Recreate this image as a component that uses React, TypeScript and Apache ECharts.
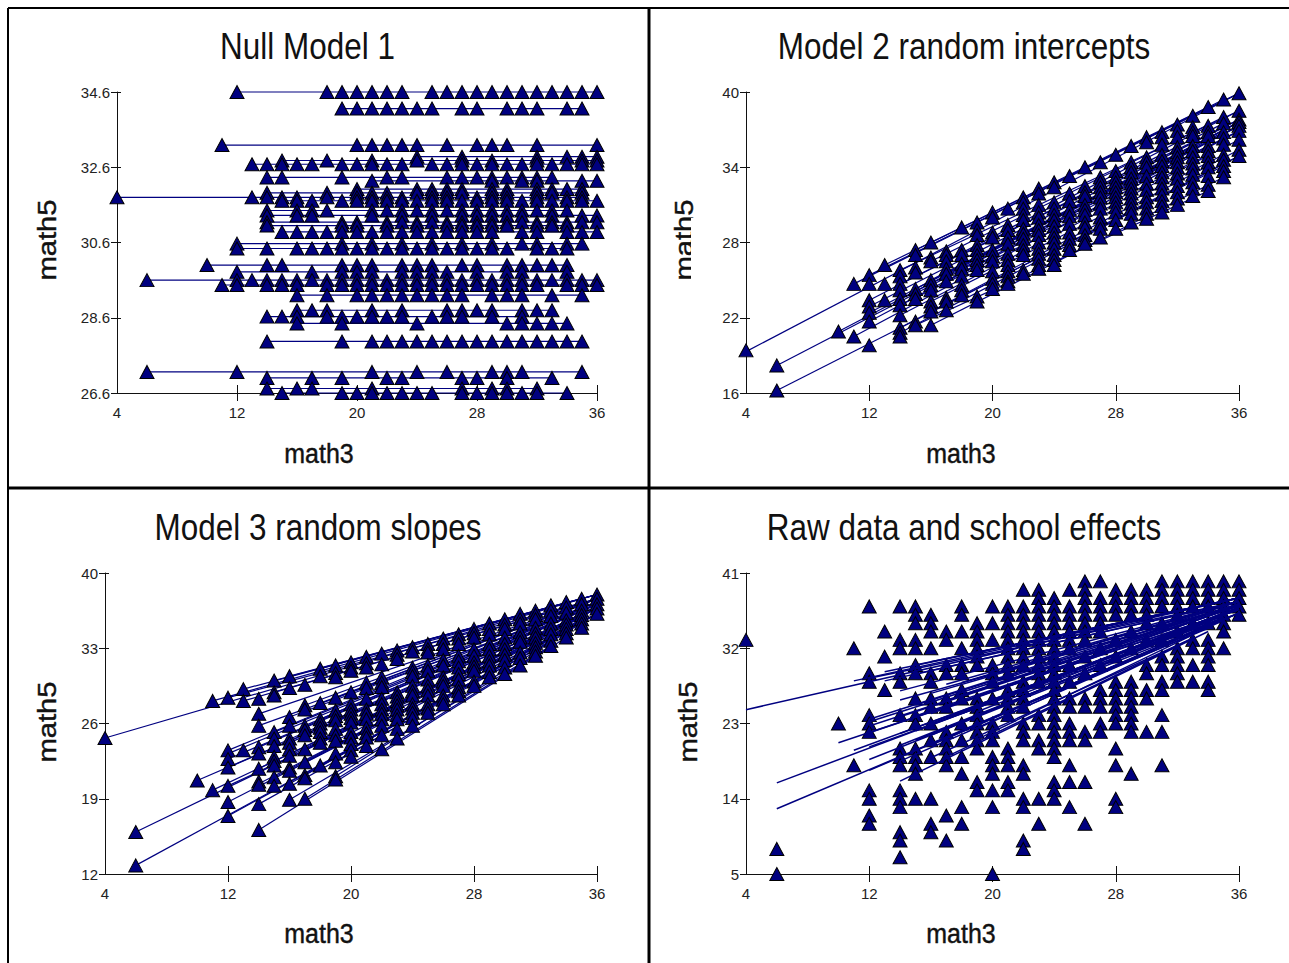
import React, { useEffect, useRef } from "react";
import * as echarts from "echarts";

const xTicks = [4, 12, 20, 28, 36];
const yTicks1 = [26.6, 28.6, 30.6, 32.6, 34.6];
const yTicks2 = [16, 22, 28, 34, 40];
const yTicks3 = [12, 19, 26, 33, 40];
const yTicks4 = [5, 14, 23, 32, 41];

// Model 1: [school level, math3 values]
const model1Levels: [number, number[]][] = [
  [34.6, [12, 18, 19, 20, 21, 22, 23, 25, 26, 27, 28, 29, 30, 31, 32, 33, 34, 35, 36]],
  [34.16, [19, 20, 21, 22, 23, 24, 25, 27, 28, 30, 31, 32, 34, 35]],
  [33.19, [11, 20, 21, 22, 23, 24, 26, 28, 29, 30, 32, 36]],
  [32.88, [24, 27, 32, 34, 35, 36]],
  [32.78, [15, 18, 21, 24, 27, 29, 32, 35, 36]],
  [32.68, [13, 14, 15, 16, 17, 19, 20, 21, 22, 23, 25, 26, 27, 28, 29, 30, 31, 32, 33, 34, 35, 36]],
  [32.33, [14, 15, 19, 22, 23, 26, 27, 28, 29, 30, 31, 32, 33]],
  [32.24, [21, 29, 31, 32, 35, 36]],
  [32.02, [20, 24, 25, 26, 27, 29, 30, 32, 33, 34, 35]],
  [31.92, [14, 18, 20, 21, 22, 24, 25, 26, 27, 29, 30, 32, 33, 35]],
  [31.8, [4, 13, 14, 15, 16, 18, 20, 21, 22, 23, 25, 26, 28, 29, 30, 32, 34, 35]],
  [31.71, [15, 16, 17, 19, 20, 21, 22, 23, 24, 25, 26, 27, 28, 29, 30, 31, 32, 33, 34, 35, 36]],
  [31.45, [14, 16, 17, 18, 21, 22, 23, 24, 25, 26, 27, 28, 29, 30, 31, 32, 33, 34]],
  [31.32, [14, 16, 17, 21, 23, 25, 27, 28, 29, 30, 31, 33, 35, 36]],
  [31.14, [14, 19, 20, 22, 23, 24, 25, 26, 27, 28, 29, 30, 31, 32, 33, 34, 35, 36]],
  [31.05, [14, 19, 20, 22, 24, 26, 27, 28, 29, 30, 32, 33, 34]],
  [30.88, [15, 16, 17, 18, 19, 20, 21, 22, 23, 24, 25, 26, 27, 28, 29, 31, 32, 34, 35, 36]],
  [30.57, [12, 19, 21, 23, 25, 27, 29, 31, 32, 34, 35]],
  [30.44, [12, 14, 16, 17, 18, 19, 20, 21, 22, 23, 24, 25, 26, 27, 28, 29, 30, 32, 33, 34]],
  [30.0, [10, 14, 15, 19, 20, 21, 23, 24, 25, 27, 28, 30, 31, 32, 33, 34]],
  [29.82, [12, 17, 19, 20, 21, 23, 24, 25, 26, 28, 30, 31, 34]],
  [29.6, [6, 12, 13, 14, 15, 16, 17, 18, 19, 20, 21, 22, 23, 24, 25, 26, 27, 28, 29, 30, 31, 32, 33, 34, 35, 36]],
  [29.47, [11, 12, 14, 15, 16, 18, 19, 20, 21, 22, 23, 24, 25, 26, 27, 28, 29, 30, 31, 32, 34, 35, 36]],
  [29.2, [16, 18, 20, 21, 22, 23, 24, 25, 26, 27, 29, 30, 31, 33, 35]],
  [28.8, [16, 17, 18, 21, 23, 26, 27, 28, 29, 31, 32, 33]],
  [28.63, [14, 15, 16, 18, 19, 20, 21, 22, 23, 25, 26, 27, 29, 31]],
  [28.45, [16, 19, 24, 30, 31, 32, 33, 34]],
  [27.97, [14, 19, 21, 22, 23, 24, 25, 26, 27, 28, 29, 30, 31, 32, 33, 34, 35]],
  [27.16, [6, 12, 21, 24, 26, 29, 30, 31, 35]],
  [27.0, [14, 17, 19, 22, 23, 27, 28, 30, 33]],
  [26.72, [14, 16, 17, 21, 27, 29, 30, 32]],
  [26.6, [15, 19, 20, 21, 22, 23, 24, 25, 27, 28, 29, 30, 31, 32, 34]],
];

// Model 2: triangles by math3 column
const model2Columns: [number, number[]][] = [
  [4, [19.4]], [6, [18.2, 16.2]], [10, [20.9]], [11, [24.7, 20.5]],
  [12, [25.4, 24.7, 23.4, 22.9, 22.4, 21.7, 19.8]],
  [13, [26.2, 24.7, 23.4]],
  [14, [25.8, 25.3, 24.7, 24.2, 23.5, 23, 22.2, 21.2, 20.8, 20.5]],
  [15, [27.4, 27, 26, 25.6, 24.3, 23.9, 23.5, 21.7, 21.4]],
  [16, [28, 26.8, 26.5, 25, 24.6, 24.2, 23.3, 22.9, 22.5, 21.4]],
  [17, [27.3, 27, 26.5, 25.9, 25.5, 24.9, 23.6, 23.3, 22.6]],
  [18, [29.2, 27.4, 27, 26.3, 25.9, 25.3, 24.6, 24.2, 23.8]],
  [19, [29.6, 29, 28.6, 27.8, 27.4, 27, 26.6, 26.2, 25.8, 23.7, 23.3]],
  [20, [30.4, 30, 28.8, 28.4, 27.4, 26.9, 26.5, 25.7, 25.1, 24.7, 24.3]],
  [21, [30.7, 29.4, 29, 28.4, 27.9, 27.1, 26.6, 26.2, 25.7, 25.3, 24.9, 24.7]],
  [22, [31.6, 31.2, 30.7, 30.2, 29.8, 29.1, 28.7, 28.3, 27.8, 27.4, 27, 25.8, 25.5]],
  [23, [32.3, 31.9, 31, 30.4, 30, 29.4, 29, 28.6, 28, 27.5, 27.1, 26.7, 26.2, 25.9]],
  [24, [32.8, 32.4, 31.2, 30.7, 30.2, 29.8, 29.3, 28.8, 28.4, 28, 27.5, 27, 26.6, 26.2]],
  [25, [33.3, 31.9, 31.3, 30.6, 30.1, 29.5, 28.8, 28.3, 27.8, 27.4]],
  [26, [34, 32.5, 32, 31.7, 31, 30.6, 30.2, 29.6, 29.2, 28.6, 28.2, 27.9]],
  [27, [34.4, 33.2, 32.8, 32.4, 32, 31.6, 31.1, 30.7, 30, 29.5, 29.1, 28.4]],
  [28, [35, 33.7, 33.2, 32.8, 32.4, 32, 31.6, 31.2, 30.8, 30.4, 29.8, 29.1]],
  [29, [35.7, 34.4, 34, 33.6, 33.1, 32.7, 32.3, 31.9, 31.5, 31.1, 30.7, 30.3, 29.6]],
  [30, [36.4, 36, 34.8, 34.4, 34, 33.3, 32.7, 32.2, 31.6, 31.2, 30.7, 30.3, 29.9]],
  [31, [36.8, 36.4, 35.8, 35, 34.5, 34.1, 33.6, 33.2, 32.7, 32.3, 31.8, 31.3, 30.9, 30.4]],
  [32, [37.4, 36.9, 36.4, 35.6, 35.2, 34.8, 34.4, 34, 33.5, 33.1, 32.5, 32, 31.5, 31]],
  [33, [38.1, 37.2, 36.8, 36.5, 35.7, 35.3, 34.8, 34.3, 33.9, 33.4, 32.8, 32.3, 31.7]],
  [34, [38.8, 37.3, 36.8, 36.5, 35.7, 35.3, 34.9, 34.4, 34, 33.3, 32.6, 32.1]],
  [35, [39.4, 38, 37.5, 36.8, 36.3, 35.8, 35, 34.6, 34.1, 33.7, 33.2]],
  [36, [39.9, 38.5, 37.8, 37.6, 37.3, 36.9, 36.2, 35.4, 34.9]],
];

// Fitted lines of model 2: [x0, y0, x1, y1]
const model2Lines: number[][] = [
  [4, 19.3, 36, 39.9], [11, 24.7, 35, 39.4], [12, 25.4, 36, 39.9], [13, 26.2, 34, 38.8],
  [6, 18.2, 36, 37.3], [6, 16.2, 36, 34.9], [10, 20.9, 36, 37.6], [11, 20.5, 36, 36.9],
  [12, 23.4, 36, 38.5], [12, 22.9, 36, 37.8], [12, 22.4, 36, 37.6], [12, 21.7, 36, 37.3],
  [14, 25.8, 36, 38.5], [14, 24.7, 36, 37.8], [14, 23.5, 36, 36.9], [14, 23, 34, 35],
  [14, 22.2, 36, 36.2], [14, 21.2, 36, 35.4], [14, 20.8, 36, 34.9], [15, 27.4, 36, 39.9],
  [15, 24.3, 35, 36.8], [15, 21.4, 34, 32.1], [16, 26.5, 35, 38], [16, 25, 36, 37.6],
  [16, 23.3, 35, 35], [16, 22.5, 35, 34.1], [16, 21.4, 35, 33.2], [17, 25.5, 36, 37.3],
  [17, 24.9, 34, 35.7], [18, 27, 35, 37.5],
];

// Model 3: triangles by math3 column
const model3Columns: [number, number[]][] = [
  [4, [24.65]], [6, [15.9, 12.8]], [10, [20.7]], [11, [28.1, 19.8]],
  [12, [28.4, 23.5, 22.7, 21.9, 20.2, 18.7, 17.4]],
  [13, [29.2, 28.1, 23.5]],
  [14, [28.3, 26.9, 25.8, 23.8, 23.2, 21.8, 20.6, 20.3, 18.5, 16.1]],
  [15, [30, 28.9, 28.6, 25.2, 24.6, 23.9, 22.9, 22.5, 22.1, 21, 20.2]],
  [16, [30.4, 29.3, 26.6, 25.8, 24.6, 24.2, 23.6, 23, 21.9, 21.6, 20.4, 18.9]],
  [17, [29.6, 27.7, 27.3, 25.8, 25.4, 24.9, 23.6, 22.4, 21.2, 20.9, 19]],
  [18, [31.1, 30.4, 27.9, 26.4, 26, 25.6, 25.2, 24.6, 24.2, 22.1]],
  [19, [31.4, 30.7, 30.3, 28.4, 27.2, 26.7, 26.3, 25.5, 24.9, 24.4, 23.2, 22.4, 21.1, 20.8]],
  [20, [31.7, 31.2, 30.9, 28.9, 27.8, 27.3, 26.9, 26.5, 26.1, 25.2, 24.7, 24.1, 23.5, 22.9]],
  [21, [32.2, 31.6, 31.2, 29.8, 29.3, 28.3, 27.3, 26.9, 26.4, 25.6, 25.1, 24.7, 23.9]],
  [22, [32.5, 31.5, 30.3, 29.8, 29.4, 28.3, 27.8, 27.3, 26.9, 26.4, 25.8, 24.9, 23.6]],
  [23, [32.8, 32.4, 32, 28.9, 28.5, 28.1, 27.7, 27.3, 26.8, 26.4, 25.5, 24.6]],
  [24, [33.1, 32.7, 31.2, 30.8, 30.4, 29.5, 29, 28.6, 27.8, 27.4, 27, 26.5, 25.8]],
  [25, [33.4, 32.9, 32.6, 31.4, 30.9, 30.1, 29.5, 29.1, 28.6, 27.8, 27.4, 27]],
  [26, [33.9, 33.4, 32.9, 31.9, 31.4, 30.3, 29.9, 29.5, 28.6, 28.2, 27.8]],
  [27, [34.3, 33.9, 33.4, 32.3, 31.8, 31.2, 30.6, 30.1, 29.4, 29, 28.6]],
  [28, [34.8, 34.4, 34, 32.9, 32.3, 31.7, 31.3, 30.9, 29.9, 29.5]],
  [29, [35.3, 34.8, 34.3, 33.4, 32.9, 32.3, 31.8, 31.4, 30.8, 30.3]],
  [30, [35.7, 35.2, 34.8, 34, 33.4, 32.9, 32.4, 31.9, 31.2, 30.6]],
  [31, [36.2, 35.7, 35.3, 34.5, 34, 33.6, 32.6, 32.1, 31.4]],
  [32, [36.5, 36.1, 35.7, 34.9, 34.4, 34, 33.5, 33.1, 32.7, 32.3]],
  [33, [37, 36.5, 36, 35.3, 34.8, 34.3, 33.7, 33.2]],
  [34, [37.3, 36.8, 36.3, 35.6, 35.2, 34.8, 34.4, 34]],
  [35, [37.6, 37.1, 36.5, 36.1, 35.7, 35.3, 34.9]],
  [36, [38, 37.6, 37.1, 36.7, 36.2]],
];

// Fitted lines of model 3 (also drawn over the raw data): [x0, y0, x1, y1]
const model3Lines: number[][] = [
  [4, 24.65, 36, 38], [6, 15.9, 36, 36.7], [6, 12.8, 36, 36.2], [10, 20.7, 36, 36.7],
  [11, 28.1, 36, 38], [11, 19.8, 36, 36.7], [12, 28.4, 36, 37.6], [12, 23.5, 36, 37.6],
  [12, 23.2, 36, 37.3], [12, 22.7, 36, 37.1], [12, 21.9, 36, 36.7], [12, 20.2, 36, 36.2],
  [12, 18.7, 36, 36.2], [12, 17.4, 36, 36.2], [13, 29.2, 36, 38], [13, 28.1, 36, 37.6],
  [14, 26.9, 36, 37.6], [14, 25.8, 36, 37.1], [14, 23.8, 36, 37.1], [14, 21.8, 36, 36.7],
  [14, 20.4, 35, 35.7], [14, 18.5, 35, 35.3], [14, 16.1, 34, 34], [15, 30, 36, 38],
  [15, 28.9, 36, 37.6], [15, 25.2, 36, 37.3], [16, 30.4, 36, 38], [16, 26.6, 36, 37.3],
  [16, 18.9, 33, 33.2], [17, 19, 33, 33.2], [17, 27.7, 36, 37.6], [18, 31.1, 36, 38],
  [15, 23.9, 36, 37.1], [15, 22.1, 36, 36.7], [15, 21, 35, 35.9], [16, 24.2, 36, 37.1],
  [16, 23, 36, 36.9], [16, 21.6, 35, 36.1], [16, 20.4, 34, 34.8], [17, 25.8, 36, 37.3],
  [17, 23.6, 36, 36.9], [17, 22.4, 35, 35.9], [17, 21.2, 35, 35.5], [18, 27.9, 36, 37.6],
  [18, 26.4, 36, 37.3], [18, 24.2, 36, 36.9], [18, 22.1, 34, 34.4], [19, 28.4, 36, 37.6],
  [19, 26.3, 36, 37.1], [19, 24.4, 36, 36.7], [19, 22.4, 35, 35.7], [19, 21.1, 33, 33.6],
];

// Raw data: triangles by math3 column
const rawColumns: [number, number[]][] = [
  [4, [33]], [6, [8, 5]], [10, [23]], [11, [32, 18]],
  [12, [37, 29, 28, 24, 23, 22, 15, 14, 12, 11]],
  [13, [34, 31, 27]],
  [14, [37, 33, 32, 29, 28, 24, 20, 19, 18, 15, 14, 13, 10, 9, 7]],
  [15, [37, 36, 35, 33, 32, 30, 29, 26, 24, 23, 20, 19, 18, 17, 14]],
  [16, [36, 35, 34, 32, 29, 28, 26, 25, 23, 21, 19, 14, 11, 10]],
  [17, [34, 33, 30, 29, 26, 25, 22, 21, 20, 19, 18, 12, 9]],
  [18, [37, 36, 34, 32, 30, 29, 27, 26, 23, 21, 19, 17, 13, 11]],
  [19, [35, 34, 33, 32, 31, 30, 26, 25, 24, 23, 22, 21, 20, 16, 15]],
  [20, [37, 35, 33, 30, 29, 28, 26, 23, 22, 21, 19, 18, 17, 15, 13, 5]],
  [21, [37, 36, 35, 34, 33, 32, 31, 30, 29, 27, 26, 25, 24, 20, 19, 18, 16, 15]],
  [22, [39, 37, 36, 35, 34, 33, 32, 31, 30, 28, 27, 26, 25, 23, 22, 21, 18, 17, 14, 13, 9, 8]],
  [23, [39, 38, 37, 36, 35, 34, 33, 32, 31, 30, 29, 28, 24, 23, 21, 20, 14, 11]],
  [24, [38, 37, 36, 35, 34, 33, 32, 31, 30, 29, 28, 27, 26, 25, 24, 23, 22, 21, 20, 19, 16, 15, 14]],
  [25, [39, 37, 36, 35, 34, 33, 32, 30, 28, 26, 25, 23, 22, 21, 18, 16, 13]],
  [26, [40, 39, 38, 37, 36, 35, 34, 33, 31, 29, 26, 25, 22, 21, 16, 11]],
  [27, [40, 38, 37, 36, 35, 34, 32, 30, 27, 26, 25, 23, 22]],
  [28, [39, 38, 37, 36, 33, 31, 28, 27, 26, 25, 24, 23, 20, 18, 14, 13]],
  [29, [39, 38, 37, 36, 34, 32, 28, 27, 26, 25, 24, 23, 22, 17]],
  [30, [39, 38, 37, 36, 35, 33, 30, 29, 27, 26, 22]],
  [31, [40, 39, 38, 37, 35, 33, 31, 30, 28, 27, 24, 22, 18]],
  [32, [40, 39, 38, 37, 36, 34, 32, 31, 30, 29, 28]],
  [33, [40, 39, 38, 37, 35, 33, 32, 30, 28]],
  [34, [40, 39, 38, 37, 35, 33, 32, 31, 30, 28, 27]],
  [35, [40, 39, 38, 37, 36, 35, 34, 32]],
  [36, [40, 39, 38, 37, 36]],
];

const NAVY = "#000080";
const SANS = "'Liberation Sans', Arial, sans-serif";

const grids = [
  { left: 117, top: 92, width: 480, height: 301 },
  { left: 746, top: 92, width: 493, height: 301 },
  { left: 105, top: 573, width: 492, height: 301 },
  { left: 746, top: 573, width: 493, height: 301 },
];

const trianglesFromColumns = (cols: [number, number[]][]) =>
  cols.flatMap(([x, ys]) => ys.map((y) => [x, y]));
const trianglesFromLevels = (levels: [number, number[]][]) =>
  levels.flatMap(([y, xs]) => xs.map((x) => [x, y]));

const lineSeries = (lines: number[][], idx: number, z: number, width = 1.2) =>
  lines.map((l) => ({
    type: "line",
    xAxisIndex: idx * 2,
    yAxisIndex: idx * 2,
    data: [[l[0], l[1]], [l[2], l[3]]],
    showSymbol: false,
    symbol: "none",
    lineStyle: { color: NAVY, width },
    clip: false,
    z,
    silent: true,
  }));

const markerSeries = (points: number[][], idx: number, z: number) => ({
  type: "scatter",
  xAxisIndex: idx * 2,
  yAxisIndex: idx * 2,
  data: points,
  symbol: "triangle",
  symbolSize: [14, 13],
  clip: false,
  z,
  itemStyle: { color: NAVY, borderColor: "#000", borderWidth: 1, opacity: 1 },
  silent: true,
});

const makeXAxes = (idx: number) => [
  {
    type: "value", gridIndex: idx, min: 4, max: 36, position: "bottom",
    axisLine: { onZero: false, lineStyle: { color: "#111", width: 1 } },
    axisTick: { length: 8, customValues: xTicks.slice(1), lineStyle: { color: "#111" } },
    axisLabel: { customValues: xTicks, color: "#222", fontFamily: SANS, fontSize: 15, margin: 12, hideOverlap: false, showMinLabel: true, showMaxLabel: true },
    splitLine: { show: false },
  },
  {
    type: "value", gridIndex: idx, min: 4, max: 36, position: "bottom",
    axisLine: { show: false, onZero: false },
    axisTick: { length: 8, inside: true, customValues: xTicks.slice(1), lineStyle: { color: "#111" } },
    axisLabel: { show: false },
    splitLine: { show: false },
  },
];

const makeYAxes = (idx: number, ticks: number[], digits: number) => [
  {
    type: "value", gridIndex: idx, min: ticks[0], max: ticks[ticks.length - 1], position: "left",
    axisLine: { onZero: false, lineStyle: { color: "#111", width: 1 } },
    axisTick: { length: 6, customValues: ticks, lineStyle: { color: "#111" } },
    axisLabel: { customValues: ticks, color: "#222", fontFamily: SANS, fontSize: 15, margin: 7, formatter: (v: number) => v.toFixed(digits), hideOverlap: false, showMinLabel: true, showMaxLabel: true },
    splitLine: { show: false },
  },
  {
    type: "value", gridIndex: idx, min: ticks[0], max: ticks[ticks.length - 1], position: "left",
    axisLine: { show: false, onZero: false },
    axisTick: { length: 4, inside: true, customValues: ticks, lineStyle: { color: "#111" } },
    axisLabel: { show: false },
    splitLine: { show: false },
  },
];

const titleAt = (text: string, x: number, y: number) => ({
  type: "text", x, y, z: 20, scaleX: 0.85,
  style: { text, fontFamily: SANS, fontSize: 37, fontWeight: "normal", fill: "#111", textAlign: "center", textVerticalAlign: "middle" },
});

const nameAt = (text: string, x: number, y: number, vertical = false) => ({
  type: "text", x, y, z: 20,
  rotation: vertical ? Math.PI / 2 : 0,
  scaleX: vertical ? 1.17 : 1,
  scaleY: vertical ? 1 : 1.12,
  style: { text, fontFamily: SANS, fontSize: 25, fontWeight: "normal", fill: "#111", stroke: "#111", lineWidth: 0.4, textAlign: "center", textVerticalAlign: "middle" },
});

const rule = (x1: number, y1: number, x2: number, y2: number, w: number) => ({
  type: "line", z: 30, shape: { x1, y1, x2, y2 }, style: { stroke: "#000", lineWidth: w },
});

export default function App() {
  const ref = useRef<HTMLDivElement>(null);
  useEffect(() => {
    const chart = echarts.init(ref.current!, undefined, { renderer: "svg" });
    chart.setOption({
      animation: false,
      backgroundColor: "#fff",
      grid: grids.map((g) => ({ ...g, containLabel: false })),
      xAxis: [...makeXAxes(0), ...makeXAxes(1), ...makeXAxes(2), ...makeXAxes(3)],
      yAxis: [
        ...makeYAxes(0, yTicks1, 1),
        ...makeYAxes(1, yTicks2, 0),
        ...makeYAxes(2, yTicks3, 0),
        ...makeYAxes(3, yTicks4, 0),
      ],
      series: [
        ...lineSeries(
          model1Levels.map(([y, xs]) => [xs[0], y, xs[xs.length - 1], y]),
          0, 2,
        ),
        markerSeries(trianglesFromLevels(model1Levels), 0, 3),
        ...lineSeries(model2Lines, 1, 2),
        markerSeries(trianglesFromColumns(model2Columns), 1, 3),
        ...lineSeries(model3Lines, 2, 2),
        markerSeries(trianglesFromColumns(model3Columns), 2, 3),
        markerSeries(trianglesFromColumns(rawColumns), 3, 2),
        ...lineSeries(model3Lines, 3, 3, 1.5),
      ],
      graphic: [
        rule(8, 8, 1289, 8, 2),
        rule(8, 8, 8, 963, 2),
        rule(649, 8, 649, 963, 3),
        rule(8, 488, 1289, 488, 3),
        titleAt("Null Model 1", 307.5, 46),
        titleAt("Model 2 random intercepts", 964, 46),
        titleAt("Model 3 random slopes", 318, 527),
        titleAt("Raw data and school effects", 964, 527),
        nameAt("math3", 319, 454),
        nameAt("math3", 961, 454),
        nameAt("math3", 319, 934),
        nameAt("math3", 961, 934),
        nameAt("math5", 47, 240, true),
        nameAt("math5", 684, 240, true),
        {
          type: "rect", z: 21,
          shape: { x: 691, y: 218, width: 7, height: 66 },
          style: { fill: "#fff" },
        },
        nameAt("math5", 47, 722, true),
        nameAt("math5", 688, 722, true),
      ],
    });
    return () => chart.dispose();
  }, []);
  return <div ref={ref} style={{ position: "fixed", left: 0, top: 0, width: 1289, height: 963, background: "#fff" }} />;
}
